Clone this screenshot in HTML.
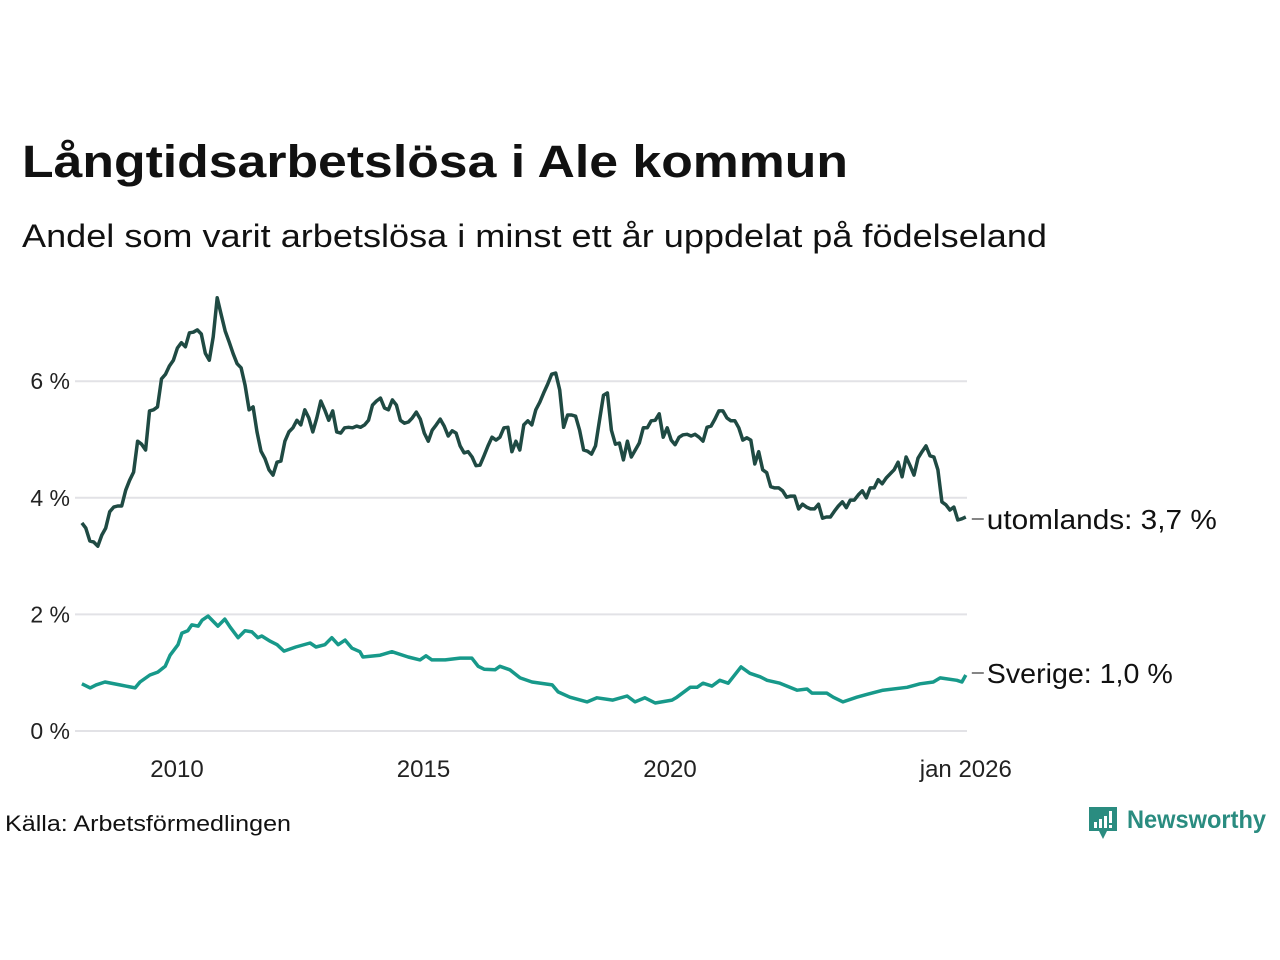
<!DOCTYPE html>
<html><head><meta charset="utf-8"><style>
html,body{margin:0;padding:0;background:#fff;}
svg{display:block;font-family:"Liberation Sans","DejaVu Sans",sans-serif;}
</style></head><body>
<svg id="chart" width="1280" height="960" viewBox="0 0 1280 960" xmlns="http://www.w3.org/2000/svg">
<rect width="1280" height="960" fill="#fff"/>
<text x="22" y="177" font-size="45" font-weight="bold" fill="#111" textLength="826" lengthAdjust="spacingAndGlyphs">Långtidsarbetslösa i Ale kommun</text>
<text x="22" y="247" font-size="32" fill="#111" textLength="1025" lengthAdjust="spacingAndGlyphs">Andel som varit arbetslösa i minst ett år uppdelat på födelseland</text>
<g id="grid"></g>
<g id="yticks"></g>
<g id="xticks"></g>
<g id="series"></g>
<text x="5" y="831" font-size="22" fill="#111" textLength="286" lengthAdjust="spacingAndGlyphs">Källa: Arbetsförmedlingen</text>
<g>
<path d="M1089 807 h28 v24 h-10 l-4 8 l-4 -8 h-10 z" fill="#2a8c80"/>
<rect x="1094" y="822" width="3" height="6" fill="#fff"/><rect x="1099" y="819" width="3" height="9" fill="#fff"/><rect x="1104" y="816" width="3" height="12" fill="#fff"/><rect x="1109" y="811" width="3" height="12" fill="#fff"/><rect x="1109" y="825" width="3" height="3" fill="#fff"/>
<text x="1127" y="828" font-size="25" font-weight="bold" fill="#2a8c80" textLength="139" lengthAdjust="spacingAndGlyphs">Newsworthy</text>
</g>
</svg>
<script>
const yTicks=[0,2,4,6];
const yTickLabels=["0 %","2 %","4 %","6 %"];
const xTicks=[2010,2015,2020,2026];
const xTickLabels=["2010","2015","2020","jan 2026"];
const foreignStart=2008.07, foreignEnd=2026.0;
const foreignValues=[3.57,3.48,3.26,3.24,3.17,3.36,3.48,3.76,3.84,3.86,3.86,4.13,4.30,4.44,4.97,4.92,4.82,5.49,5.51,5.56,6.04,6.12,6.26,6.36,6.57,6.66,6.59,6.83,6.84,6.88,6.81,6.48,6.36,6.76,7.43,7.14,6.86,6.67,6.47,6.30,6.23,5.93,5.51,5.56,5.13,4.80,4.67,4.48,4.39,4.61,4.63,4.97,5.13,5.20,5.33,5.25,5.51,5.37,5.13,5.37,5.66,5.51,5.33,5.49,5.13,5.11,5.20,5.21,5.20,5.23,5.21,5.25,5.33,5.59,5.66,5.71,5.54,5.51,5.68,5.59,5.33,5.28,5.30,5.37,5.47,5.35,5.11,4.97,5.16,5.25,5.35,5.23,5.06,5.15,5.11,4.89,4.77,4.79,4.70,4.55,4.56,4.72,4.89,5.04,4.99,5.04,5.20,5.21,4.79,4.97,4.82,5.25,5.32,5.25,5.51,5.64,5.80,5.95,6.12,6.14,5.85,5.21,5.42,5.42,5.40,5.16,4.82,4.80,4.75,4.89,5.33,5.76,5.80,5.16,4.92,4.94,4.65,4.97,4.70,4.82,4.94,5.20,5.20,5.32,5.33,5.44,5.04,5.20,4.99,4.91,5.04,5.08,5.09,5.06,5.09,5.04,4.97,5.21,5.23,5.35,5.49,5.49,5.37,5.32,5.32,5.20,4.99,5.03,4.99,4.58,4.79,4.48,4.43,4.19,4.17,4.17,4.12,4.01,4.03,4.03,3.81,3.89,3.84,3.81,3.81,3.89,3.65,3.67,3.67,3.77,3.86,3.93,3.83,3.96,3.96,4.05,4.12,4.00,4.17,4.17,4.31,4.24,4.34,4.41,4.48,4.61,4.36,4.70,4.55,4.39,4.68,4.79,4.89,4.72,4.70,4.48,3.93,3.88,3.79,3.84,3.62,3.64,3.67];
const swedenYears=[2008.07,2008.24,2008.36,2008.54,2008.84,2009.15,2009.25,2009.45,2009.61,2009.76,2009.86,2010.02,2010.10,2010.22,2010.30,2010.43,2010.51,2010.63,2010.83,2010.97,2011.08,2011.24,2011.38,2011.52,2011.64,2011.72,2011.89,2012.03,2012.17,2012.41,2012.70,2012.82,2013.00,2013.14,2013.27,2013.41,2013.55,2013.71,2013.77,2014.12,2014.36,2014.69,2014.93,2015.05,2015.17,2015.44,2015.74,2015.98,2016.11,2016.23,2016.45,2016.55,2016.75,2016.96,2017.20,2017.61,2017.73,2017.97,2018.32,2018.52,2018.84,2019.13,2019.29,2019.49,2019.70,2020.04,2020.14,2020.41,2020.55,2020.67,2020.85,2021.01,2021.18,2021.44,2021.62,2021.83,2021.97,2022.23,2022.58,2022.78,2022.88,2023.18,2023.31,2023.51,2023.79,2024.00,2024.32,2024.81,2025.07,2025.34,2025.48,2025.82,2025.92,2026.0];
const swedenValues=[0.81,0.74,0.79,0.84,0.79,0.74,0.84,0.96,1.01,1.11,1.30,1.48,1.68,1.72,1.82,1.80,1.90,1.97,1.80,1.92,1.78,1.60,1.72,1.70,1.60,1.63,1.54,1.48,1.37,1.44,1.51,1.44,1.48,1.60,1.48,1.56,1.42,1.36,1.27,1.30,1.36,1.27,1.22,1.29,1.22,1.22,1.25,1.25,1.11,1.06,1.05,1.11,1.05,0.91,0.84,0.79,0.67,0.58,0.50,0.57,0.53,0.60,0.50,0.57,0.48,0.53,0.58,0.75,0.75,0.82,0.77,0.87,0.82,1.10,0.99,0.93,0.87,0.82,0.70,0.72,0.65,0.65,0.58,0.50,0.58,0.63,0.70,0.75,0.81,0.84,0.91,0.87,0.84,0.96];
const seriesLabels=["utomlands: 3,7 %","Sverige: 1,0 %"];

const NS="http://www.w3.org/2000/svg";
const x=t=>177+(t-2010)*49.3;
const y=v=>731-v*58.3;
function mk(tag,attrs,parent){const e=document.createElementNS(NS,tag);for(const k in attrs)e.setAttribute(k,attrs[k]);parent.appendChild(e);return e;}
const grid=document.getElementById('grid'),yt=document.getElementById('yticks'),xt=document.getElementById('xticks'),ser=document.getElementById('series');
yTicks.forEach((v,i)=>{
  const l=mk('line',{x1:75,x2:967,y1:y(v),y2:y(v),stroke:'#e2e2e6','stroke-width':2},grid);
  
  
  const t=mk('text',{x:70,y:y(v)+8,'font-size':23,fill:'#222','text-anchor':'end'},yt);
  t.textContent=yTickLabels[i];
  
  
});
xTicks.forEach((v,i)=>{
  const t=mk('text',{x:x(v),y:777,'font-size':24,fill:'#222','text-anchor':'middle'},xt);
  t.textContent=xTickLabels[i];
  
  
});
const n=foreignValues.length;
const fpts=foreignValues.map((v,i)=>[x(foreignStart+i*(foreignEnd-foreignStart)/(n-1)),y(v)]);
const spts=swedenValues.map((v,i)=>[x(swedenYears[i]),y(v)]);
const p1=mk('path',{d:'M'+fpts.map(p=>p[0].toFixed(1)+','+p[1].toFixed(1)).join('L'),fill:'none',stroke:'#1f4a43','stroke-width':3.5,'stroke-linejoin':'round'},ser);


const p2=mk('path',{d:'M'+spts.map(p=>p[0].toFixed(1)+','+p[1].toFixed(1)).join('L'),fill:'none',stroke:'#17998a','stroke-width':3.5,'stroke-linejoin':'round'},ser);


const labelWidths=[230,186];
[[fpts[n-1],seriesLabels[0]],[spts[spts.length-1],seriesLabels[1]]].forEach(([p,lab],i)=>{
  const ly=i===0?519:673;
  const l=mk('line',{x1:p[0]+6,x2:p[0]+18,y1:ly,y2:ly,stroke:'#333','stroke-width':1.2},ser);
  
  
  const t=mk('text',{x:p[0]+21,y:ly+10,'font-size':28,fill:'#111',textLength:labelWidths[i],lengthAdjust:'spacingAndGlyphs'},ser);
  t.textContent=lab;
  
  
});
</script>
</body></html>
